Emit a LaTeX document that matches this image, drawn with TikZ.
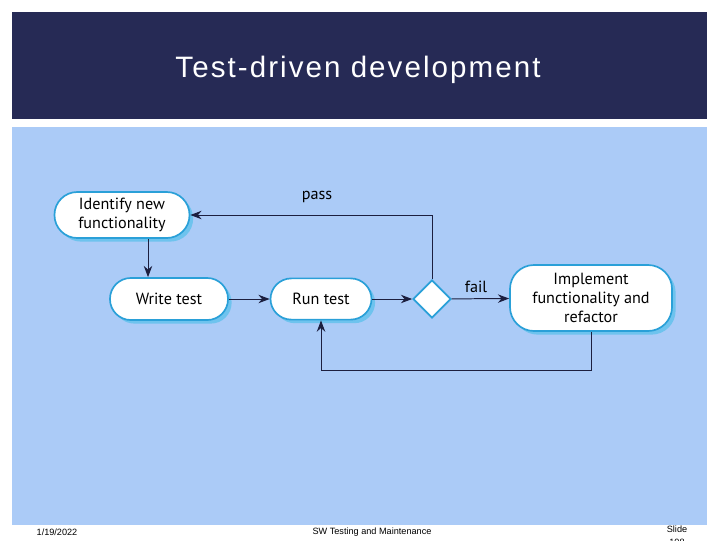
\documentclass[tikz,border=0pt]{standalone}
\usepackage{fontspec}
\setmainfont{PT Sans}
\newfontfamily\titlefont[LetterSpace=7]{Liberation Sans}
\newfontfamily\footfont{Liberation Sans}
\usetikzlibrary{shapes.geometric,arrows.meta,positioning,shadows}

\definecolor{header}{HTML}{262A55}
\definecolor{panel}{HTML}{ABCBF7}
\definecolor{border}{HTML}{2AA0D8}
\definecolor{shade}{HTML}{6EC3EE}
\definecolor{wire}{HTML}{1C1F3F}

\tikzset{
  activity/.style={draw=border, line width=1.2pt, fill=white, rounded corners=0.52cm,
    align=center, font=\fontsize{11.5}{13.5}\selectfont, inner sep=2pt,
    drop shadow={shadow xshift=0.09cm, shadow yshift=-0.09cm, fill=shade, opacity=1}},
  decision/.style={draw=border, line width=1.2pt, fill=white, diamond, inner sep=0pt,
    minimum size=0.95cm},
  flow/.style={-{Stealth[length=8pt,width=6pt]}, draw=wire, line width=0.7pt},
  guard/.style={font=\fontsize{11.5}{13.5}\selectfont}
}

\begin{document}
\begin{tikzpicture}[x=0.025cm, y=-0.025cm]
\clip (0,0) rectangle (720,540);
\fill[white] (0,0) rectangle (720,540);

% slide frame
\fill[header] (12,12) rectangle (707,119);
\fill[panel]  (12,127) rectangle (707,525);
\node (title) at (358,70) {\titlefont\color{white}\fontsize{21}{24}\selectfont Test-driven development};

% activities
\node[activity, minimum width=3.375cm, minimum height=1.15cm, rounded corners=0.57cm] (ident) at (122,215) {Identify new\\functionality};
\node[activity, minimum width=2.95cm, minimum height=1.05cm] (wtest) at (169,299) {Write test};
\node[activity, minimum width=2.525cm, minimum height=1.03cm] (rtest) at (321,299) {Run test};
\node[decision] (dec) at (432,299) {};
\node[activity, minimum width=4.05cm, minimum height=1.65cm, rounded corners=0.6cm] (impl) at (591,298) {Implement\\functionality and\\refactor};

% flows
\draw[flow] ([xshift=0.65cm]ident.south) -- ([xshift=0.65cm]ident.south |- wtest.north);
\draw[flow] (wtest) -- (rtest);
\draw[flow] (rtest) -- (dec);
\draw[flow] (dec.north) |- (ident.east);
\draw[flow] (dec) -- (impl);
\draw[flow] (impl.south) -- ++(0,39) -| (rtest.south);

\node[guard] (pass) at (317,197) {pass};
\node[guard] (fail) at (476,287) {fail};

% footer
\node[font=\footfont\fontsize{6.5}{7}\selectfont] (date) at (57,532) {1/19/2022};
\node[font=\footfont\fontsize{6.5}{7}\selectfont] (course) at (372,532) {SW Testing and Maintenance};
\node[font=\footfont\fontsize{6.5}{9}\selectfont, align=center, anchor=north] (slide) at (677,521) {Slide\\108};
\end{tikzpicture}
\end{document}
